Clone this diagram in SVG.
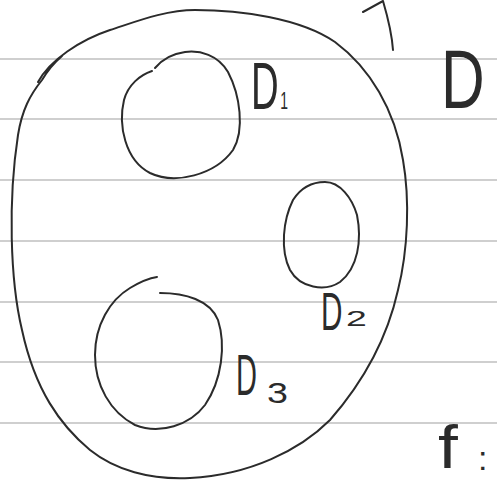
<svg xmlns="http://www.w3.org/2000/svg" width="497" height="481" viewBox="0 0 497 481">
<style>
.rule{stroke:#cfcfcf;stroke-width:2;fill:none}
.ink{stroke:#2b2b2b;stroke-width:2;fill:none;stroke-linecap:round;stroke-linejoin:round}
.lbl{font-family:"Liberation Sans",Arial,sans-serif;fill:#2b2b2b}
</style>
<rect width="497" height="481" fill="#ffffff"/>
<g id="paper">
<line class="rule" x1="0" y1="59" x2="497" y2="59"/>
<line class="rule" x1="0" y1="119" x2="497" y2="119"/>
<line class="rule" x1="0" y1="180" x2="497" y2="180"/>
<line class="rule" x1="0" y1="241" x2="497" y2="241"/>
<line class="rule" x1="0" y1="302" x2="497" y2="302"/>
<line class="rule" x1="0" y1="362" x2="497" y2="362"/>
<line class="rule" x1="0" y1="423" x2="497" y2="423"/>
</g>
<g id="D">
<path class="ink" d="M 38,82 C 50,60 80,40 110,30 C 135,22 165,10 195,10 C 240,10 300,18 335,42 C 370,68 395,110 403,160 C 410,200 408,250 398,290 C 388,335 365,380 330,420 C 300,450 250,475 190,478 C 150,480 115,470 90,450 C 60,425 35,390 22,330 C 10,280 8,200 18,135 C 22,110 30,95 42,80 C 48,70 55,62 62,56"/>
<text class="lbl" transform="translate(441,108) scale(0.72,1)" font-size="84">D</text>
</g>
<g id="D1">
<path class="ink" d="M 152,71 C 140,75 128,85 124,100 C 118,125 125,160 150,173 C 175,185 215,175 233,150 C 245,130 240,95 228,72 C 218,55 200,50 185,52 C 170,54 160,62 155,68"/>
<text class="lbl" transform="translate(251,109) scale(0.58,1)" font-size="66">D<tspan font-size="24" dx="3">1</tspan></text>
</g>
<g id="D2">
<path class="ink" d="M 325,182 C 340,182 352,198 357,215 C 362,240 358,268 340,282 C 325,292 300,288 290,270 C 280,250 283,220 293,200 C 302,186 313,182 325,182 Z"/>
<text class="lbl" transform="translate(321,330) scale(0.56,1)" font-size="53">D</text>
<text class="lbl" transform="translate(346,326) scale(1.7,1)" font-size="22">2</text>
</g>
<g id="D3">
<path class="ink" d="M 160,293 C 185,293 210,300 218,320 C 226,345 222,380 205,405 C 190,425 160,435 135,425 C 110,412 95,385 95,355 C 95,325 110,300 130,288 C 140,282 150,278 157,277"/>
<text class="lbl" transform="translate(236,395) scale(0.5,1)" font-size="58">D</text>
<text class="lbl" transform="translate(267,403) scale(1.3,1)" font-size="29">3</text>
</g>
<g id="f">
<text class="lbl" transform="translate(438,468) scale(1.15,1)" font-size="62">f</text>
<text class="lbl" x="478" y="470" font-size="34">:</text>
</g>
<g id="connectors">
<path class="ink" d="M 363,12 L 383,1 C 388,18 392,35 393,50"/>
</g>
</svg>
